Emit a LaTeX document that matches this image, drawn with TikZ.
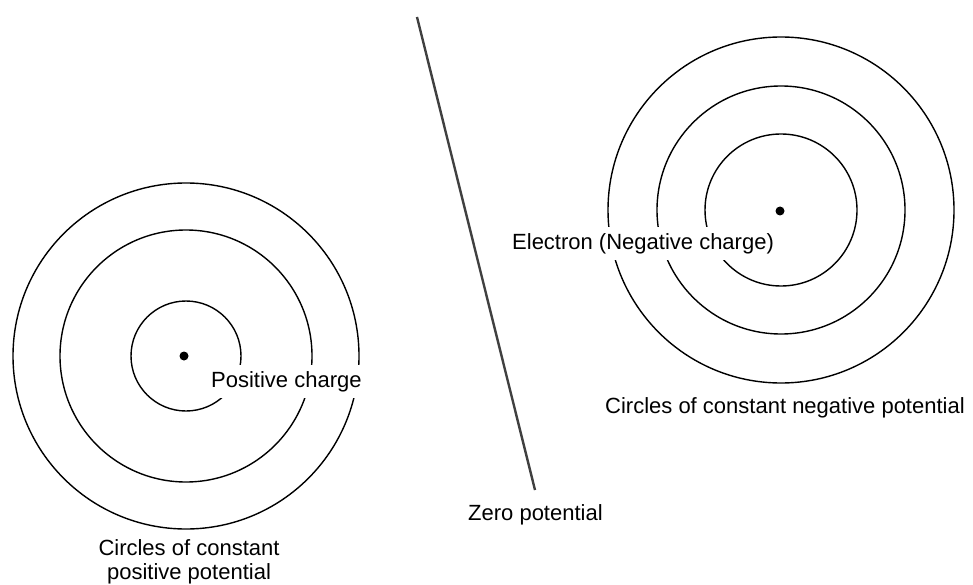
\documentclass[tikz,border=0pt]{standalone}
\usepackage{fontspec}
\setmainfont{Liberation Sans}
\begin{document}
\begin{tikzpicture}[x=1pt,y=-1pt,
  eqp/.style={line width=1.4pt},
  lbl/.style={font=\fontsize{22}{24}\selectfont, inner sep=0pt},
  cut/.style={lbl, fill=white, inner xsep=8pt, inner ysep=6pt},
  charge/.style={circle, fill=black, inner sep=0pt, minimum size=9pt},
  zeroline/.style={line width=2.4pt, black!75}]
\useasboundingbox (0,0) rectangle (973,585);
\coordinate (pc) at (186,356);
\coordinate (nc) at (781,210);
\draw[eqp] (pc) circle[radius=55];
\draw[eqp] (pc) circle[radius=126];
\draw[eqp] (pc) circle[radius=173];
\draw[eqp] (nc) circle[radius=76];
\draw[eqp] (nc) circle[radius=124];
\draw[eqp] (nc) circle[radius=173];
\node[charge] (pos) at (184,356) {};
\node[charge] (neg) at (780,211) {};
\node[cut, anchor=base west] (poslbl) at (203,387) {Positive charge};
\node[cut, anchor=base west] (neglbl) at (504,249) {Electron (Negative charge)};
\node[lbl, align=center, anchor=north] (poscap) at (189,539) {Circles of constant\\positive potential};
\node[lbl, anchor=base west] (negcap) at (605,413) {Circles of constant negative potential};
\node[lbl, anchor=base west] (zero) at (468,520) {Zero potential};
\coordinate (zt) at (417,17);
\coordinate (zb) at (535,490);
\draw[zeroline] (zt) -- (zb);
\end{tikzpicture}
\end{document}
